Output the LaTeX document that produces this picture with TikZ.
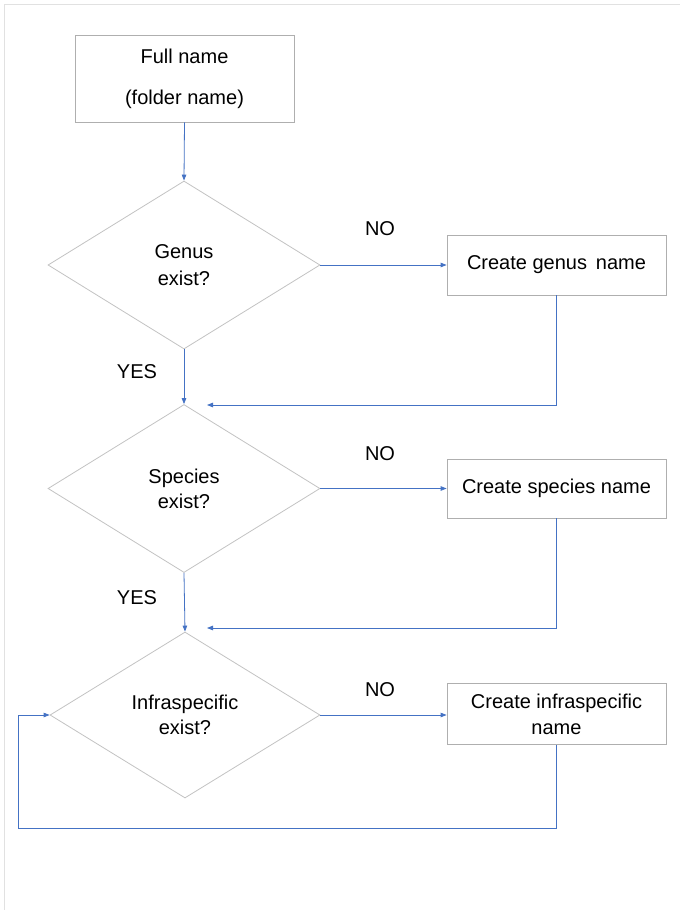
\documentclass[tikz,border=0pt]{standalone}
\usepackage{fontspec}
\setmainfont{Liberation Sans}
\usetikzlibrary{shapes.geometric,arrows.meta}
\definecolor{connblue}{RGB}{68,114,196}
\definecolor{boxgray}{RGB}{175,175,175}
\definecolor{diagray}{RGB}{195,195,195}
\definecolor{framegray}{RGB}{225,225,225}
\begin{document}
\begin{tikzpicture}[x=1pt,y=-1pt,
  every node/.style={font=\fontsize{20}{26}\selectfont, text=black},
  procbox/.style={draw=boxgray, line width=0.8pt, rectangle, minimum width=219pt, inner sep=0pt, align=center},
  decision/.style={draw=diagray, line width=0.8pt, diamond, minimum width=272pt, minimum height=168pt, inner sep=0pt, align=center},
  conn/.style={draw=connblue, line width=0.8pt, -{Triangle[length=6pt,width=4.5pt]}},
  lbl/.style={inner sep=0pt}
]
\useasboundingbox (0,0) rectangle (680,910);
\fill[white] (0,0) rectangle (680,910);
\draw[framegray, line width=1pt] (4,910) -- (4,4) -- (680,4);

% boxes
\node[procbox, minimum height=87pt, font=\fontsize{20}{41}\selectfont] (b1) at (184.5,78.5) {Full name\\(folder name)};
\node[procbox, minimum height=60pt] (c1) at (556.5,265) {Create genus\,\ name};
\node[procbox, minimum height=59pt] (c2) at (556.5,488.5) {Create species name};
\node[procbox, minimum height=61pt] (c3) at (556.5,714) {Create infraspecific\\name};

% decisions
\node[decision, font=\fontsize{20}{27}\selectfont] (d1) at (184,265) {Genus\\exist?};
\node[decision, font=\fontsize{20}{25}\selectfont] (d2) at (184,488.5) {Species\\exist?};
\node[decision, minimum width=270pt, minimum height=166pt, font=\fontsize{20}{25}\selectfont] (d3) at (185,715) {Infraspecific\\exist?};

% labels
\node[lbl] (no1) at (380,229) {NO};
\node[lbl] (no2) at (380,454) {NO};
\node[lbl] (no3) at (380,690) {NO};
\node[lbl] (yes1) at (137,372) {YES};
\node[lbl] (yes2) at (137,598) {YES};

% coordinates
\coordinate (m1) at (207,405);
\coordinate (m2) at (207,628);
\coordinate (lp) at (18,828);

% connectors
\draw[conn] (b1.south) -- (d1.north);
\draw[conn] (d1.east) -- (d1.east -| c1.west);
\draw[conn] (d1.south) -- (d2.north);
\draw[conn] (c1.south) |- (m1);
\draw[conn] (d2.east) -- (d2.east -| c2.west);
\draw[conn] (d2.south) -- (d3.north);
\draw[conn] (c2.south) |- (m2);
\draw[conn] (d3.east) -- (d3.east -| c3.west);
\draw[conn] (c3.south) |- (lp) |- (d3.west);
\end{tikzpicture}
\end{document}
